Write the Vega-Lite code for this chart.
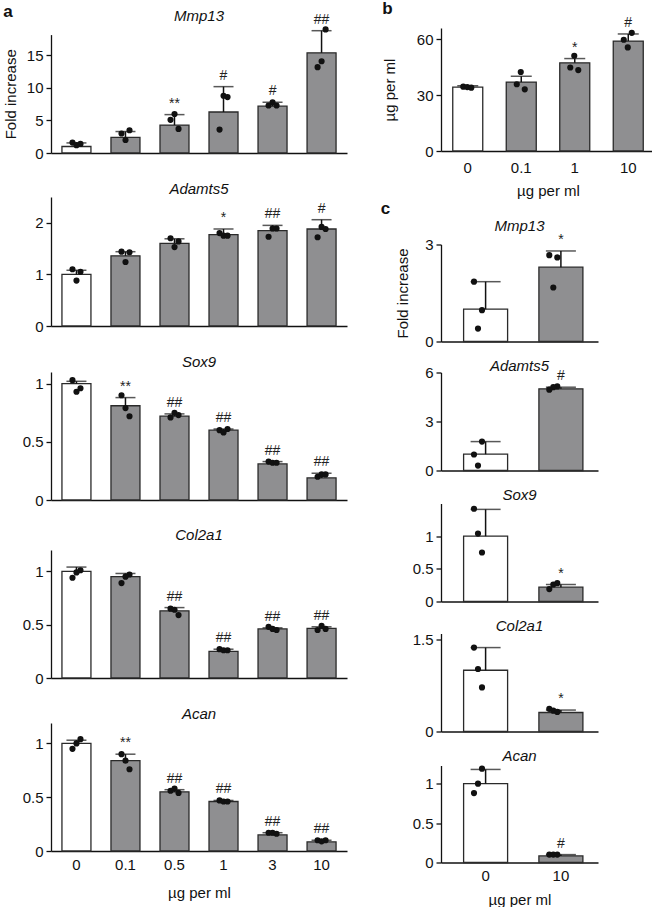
{
"$schema": "https://vega.github.io/schema/vega-lite/v6.json",
"padding": {"left": 3, "top": -1, "right": 0, "bottom": 0},
"datasets": {
"bars": [
{"panel":"aMmp13","dose":"0","grp":"ctrl","mean":1.0,"sd":1.55,"sig":""},
{"panel":"aMmp13","dose":"0.1","grp":"trt","mean":2.4,"sd":3.3,"sig":""},
{"panel":"aMmp13","dose":"0.5","grp":"trt","mean":4.3,"sd":5.9,"sig":"**"},
{"panel":"aMmp13","dose":"1","grp":"trt","mean":6.3,"sd":10.2,"sig":"#"},
{"panel":"aMmp13","dose":"3","grp":"trt","mean":7.2,"sd":7.8,"sig":"#"},
{"panel":"aMmp13","dose":"10","grp":"trt","mean":15.4,"sd":18.8,"sig":"##"},
{"panel":"aAdamts5","dose":"0","grp":"ctrl","mean":1.0,"sd":1.08,"sig":""},
{"panel":"aAdamts5","dose":"0.1","grp":"trt","mean":1.36,"sd":1.44,"sig":""},
{"panel":"aAdamts5","dose":"0.5","grp":"trt","mean":1.6,"sd":1.69,"sig":""},
{"panel":"aAdamts5","dose":"1","grp":"trt","mean":1.77,"sd":1.88,"sig":"*"},
{"panel":"aAdamts5","dose":"3","grp":"trt","mean":1.85,"sd":1.95,"sig":"##"},
{"panel":"aAdamts5","dose":"10","grp":"trt","mean":1.88,"sd":2.06,"sig":"#"},
{"panel":"aSox9","dose":"0","grp":"ctrl","mean":1.0,"sd":1.02,"sig":""},
{"panel":"aSox9","dose":"0.1","grp":"trt","mean":0.81,"sd":0.88,"sig":"**"},
{"panel":"aSox9","dose":"0.5","grp":"trt","mean":0.72,"sd":0.74,"sig":"##"},
{"panel":"aSox9","dose":"1","grp":"trt","mean":0.6,"sd":0.61,"sig":"##"},
{"panel":"aSox9","dose":"3","grp":"trt","mean":0.31,"sd":0.33,"sig":"##"},
{"panel":"aSox9","dose":"10","grp":"trt","mean":0.19,"sd":0.23,"sig":"##"},
{"panel":"aCol2a1","dose":"0","grp":"ctrl","mean":1.0,"sd":1.04,"sig":""},
{"panel":"aCol2a1","dose":"0.1","grp":"trt","mean":0.95,"sd":0.98,"sig":""},
{"panel":"aCol2a1","dose":"0.5","grp":"trt","mean":0.63,"sd":0.66,"sig":"##"},
{"panel":"aCol2a1","dose":"1","grp":"trt","mean":0.25,"sd":0.27,"sig":"##"},
{"panel":"aCol2a1","dose":"3","grp":"trt","mean":0.46,"sd":0.47,"sig":"##"},
{"panel":"aCol2a1","dose":"10","grp":"trt","mean":0.465,"sd":0.48,"sig":"##"},
{"panel":"aAcan","dose":"0","grp":"ctrl","mean":1.0,"sd":1.03,"sig":""},
{"panel":"aAcan","dose":"0.1","grp":"trt","mean":0.84,"sd":0.9,"sig":"**"},
{"panel":"aAcan","dose":"0.5","grp":"trt","mean":0.55,"sd":0.57,"sig":"##"},
{"panel":"aAcan","dose":"1","grp":"trt","mean":0.46,"sd":0.47,"sig":"##"},
{"panel":"aAcan","dose":"3","grp":"trt","mean":0.15,"sd":0.17,"sig":"##"},
{"panel":"aAcan","dose":"10","grp":"trt","mean":0.085,"sd":0.1,"sig":"##"},
{"panel":"b","dose":"0","grp":"ctrl","mean":34.3,"sd":35.0,"sig":""},
{"panel":"b","dose":"0.1","grp":"trt","mean":37.0,"sd":40.1,"sig":""},
{"panel":"b","dose":"1","grp":"trt","mean":47.3,"sd":49.6,"sig":"*"},
{"panel":"b","dose":"10","grp":"trt","mean":59.0,"sd":62.8,"sig":"#"},
{"panel":"cMmp13","dose":"0","grp":"ctrl","mean":1.0,"sd":1.85,"sig":""},
{"panel":"cMmp13","dose":"10","grp":"trt","mean":2.3,"sd":2.8,"sig":"*"},
{"panel":"cAdamts5","dose":"0","grp":"ctrl","mean":1.0,"sd":1.77,"sig":""},
{"panel":"cAdamts5","dose":"10","grp":"trt","mean":5.0,"sd":5.1,"sig":"#"},
{"panel":"cSox9","dose":"0","grp":"ctrl","mean":1.0,"sd":1.41,"sig":""},
{"panel":"cSox9","dose":"10","grp":"trt","mean":0.22,"sd":0.26,"sig":"*"},
{"panel":"cCol2a1","dose":"0","grp":"ctrl","mean":1.0,"sd":1.37,"sig":""},
{"panel":"cCol2a1","dose":"10","grp":"trt","mean":0.31,"sd":0.35,"sig":"*"},
{"panel":"cAcan","dose":"0","grp":"ctrl","mean":1.0,"sd":1.18,"sig":""},
{"panel":"cAcan","dose":"10","grp":"trt","mean":0.084,"sd":0.1,"sig":"#"}
],
"pts": [
{"panel":"aMmp13","dose":"0","rep":"1","val":1.6},{"panel":"aMmp13","dose":"0","rep":"3","val":1.4},{"panel":"aMmp13","dose":"0","rep":"2","val":1.2},
{"panel":"aMmp13","dose":"0.1","rep":"3","val":3.5},{"panel":"aMmp13","dose":"0.1","rep":"1","val":3.0},{"panel":"aMmp13","dose":"0.1","rep":"2","val":2.0},
{"panel":"aMmp13","dose":"0.5","rep":"2","val":6.0},{"panel":"aMmp13","dose":"0.5","rep":"1","val":5.1},{"panel":"aMmp13","dose":"0.5","rep":"3","val":3.7},
{"panel":"aMmp13","dose":"1","rep":"2","val":8.8},{"panel":"aMmp13","dose":"1","rep":"3","val":8.6},{"panel":"aMmp13","dose":"1","rep":"1","val":3.6},
{"panel":"aMmp13","dose":"3","rep":"2","val":7.8},{"panel":"aMmp13","dose":"3","rep":"1","val":7.3},{"panel":"aMmp13","dose":"3","rep":"3","val":7.3},
{"panel":"aMmp13","dose":"10","rep":"3","val":19.0},{"panel":"aMmp13","dose":"10","rep":"2","val":14.1},{"panel":"aMmp13","dose":"10","rep":"1","val":13.2},
{"panel":"aAdamts5","dose":"0","rep":"1","val":1.1},{"panel":"aAdamts5","dose":"0","rep":"3","val":1.05},{"panel":"aAdamts5","dose":"0","rep":"2","val":0.88},
{"panel":"aAdamts5","dose":"0.1","rep":"1","val":1.44},{"panel":"aAdamts5","dose":"0.1","rep":"3","val":1.43},{"panel":"aAdamts5","dose":"0.1","rep":"2","val":1.24},
{"panel":"aAdamts5","dose":"0.5","rep":"1","val":1.7},{"panel":"aAdamts5","dose":"0.5","rep":"3","val":1.64},{"panel":"aAdamts5","dose":"0.5","rep":"2","val":1.53},
{"panel":"aAdamts5","dose":"1","rep":"1","val":1.8},{"panel":"aAdamts5","dose":"1","rep":"2","val":1.75},{"panel":"aAdamts5","dose":"1","rep":"3","val":1.75},
{"panel":"aAdamts5","dose":"3","rep":"3","val":1.89},{"panel":"aAdamts5","dose":"3","rep":"2","val":1.89},{"panel":"aAdamts5","dose":"3","rep":"1","val":1.73},
{"panel":"aAdamts5","dose":"10","rep":"2","val":1.92},{"panel":"aAdamts5","dose":"10","rep":"3","val":1.88},{"panel":"aAdamts5","dose":"10","rep":"1","val":1.72},
{"panel":"aSox9","dose":"0","rep":"1","val":1.03},{"panel":"aSox9","dose":"0","rep":"3","val":0.96},{"panel":"aSox9","dose":"0","rep":"2","val":0.93},
{"panel":"aSox9","dose":"0.1","rep":"1","val":0.9},{"panel":"aSox9","dose":"0.1","rep":"2","val":0.79},{"panel":"aSox9","dose":"0.1","rep":"3","val":0.72},
{"panel":"aSox9","dose":"0.5","rep":"2","val":0.75},{"panel":"aSox9","dose":"0.5","rep":"3","val":0.73},{"panel":"aSox9","dose":"0.5","rep":"1","val":0.71},
{"panel":"aSox9","dose":"1","rep":"3","val":0.61},{"panel":"aSox9","dose":"1","rep":"1","val":0.6},{"panel":"aSox9","dose":"1","rep":"2","val":0.58},
{"panel":"aSox9","dose":"3","rep":"1","val":0.33},{"panel":"aSox9","dose":"3","rep":"2","val":0.32},{"panel":"aSox9","dose":"3","rep":"3","val":0.32},
{"panel":"aSox9","dose":"10","rep":"2","val":0.22},{"panel":"aSox9","dose":"10","rep":"3","val":0.22},{"panel":"aSox9","dose":"10","rep":"1","val":0.2},
{"panel":"aCol2a1","dose":"0","rep":"3","val":1.01},{"panel":"aCol2a1","dose":"0","rep":"2","val":0.99},{"panel":"aCol2a1","dose":"0","rep":"1","val":0.94},
{"panel":"aCol2a1","dose":"0.1","rep":"3","val":0.97},{"panel":"aCol2a1","dose":"0.1","rep":"2","val":0.95},{"panel":"aCol2a1","dose":"0.1","rep":"1","val":0.89},
{"panel":"aCol2a1","dose":"0.5","rep":"1","val":0.65},{"panel":"aCol2a1","dose":"0.5","rep":"2","val":0.64},{"panel":"aCol2a1","dose":"0.5","rep":"3","val":0.59},
{"panel":"aCol2a1","dose":"1","rep":"1","val":0.27},{"panel":"aCol2a1","dose":"1","rep":"2","val":0.26},{"panel":"aCol2a1","dose":"1","rep":"3","val":0.26},
{"panel":"aCol2a1","dose":"3","rep":"1","val":0.48},{"panel":"aCol2a1","dose":"3","rep":"2","val":0.46},{"panel":"aCol2a1","dose":"3","rep":"3","val":0.45},
{"panel":"aCol2a1","dose":"10","rep":"2","val":0.49},{"panel":"aCol2a1","dose":"10","rep":"3","val":0.46},{"panel":"aCol2a1","dose":"10","rep":"1","val":0.45},
{"panel":"aAcan","dose":"0","rep":"3","val":1.04},{"panel":"aAcan","dose":"0","rep":"2","val":1.0},{"panel":"aAcan","dose":"0","rep":"1","val":0.95},
{"panel":"aAcan","dose":"0.1","rep":"1","val":0.9},{"panel":"aAcan","dose":"0.1","rep":"2","val":0.84},{"panel":"aAcan","dose":"0.1","rep":"3","val":0.76},
{"panel":"aAcan","dose":"0.5","rep":"2","val":0.58},{"panel":"aAcan","dose":"0.5","rep":"1","val":0.56},{"panel":"aAcan","dose":"0.5","rep":"3","val":0.54},
{"panel":"aAcan","dose":"1","rep":"1","val":0.47},{"panel":"aAcan","dose":"1","rep":"2","val":0.46},{"panel":"aAcan","dose":"1","rep":"3","val":0.46},
{"panel":"aAcan","dose":"3","rep":"1","val":0.17},{"panel":"aAcan","dose":"3","rep":"2","val":0.17},{"panel":"aAcan","dose":"3","rep":"3","val":0.16},
{"panel":"aAcan","dose":"10","rep":"1","val":0.1},{"panel":"aAcan","dose":"10","rep":"3","val":0.1},{"panel":"aAcan","dose":"10","rep":"2","val":0.09},
{"panel":"b","dose":"0","rep":"1","val":34.5},{"panel":"b","dose":"0","rep":"2","val":34.3},{"panel":"b","dose":"0","rep":"3","val":34.0},
{"panel":"b","dose":"0.1","rep":"2","val":42.4},{"panel":"b","dose":"0.1","rep":"1","val":35.8},{"panel":"b","dose":"0.1","rep":"3","val":33.1},
{"panel":"b","dose":"1","rep":"2","val":51.1},{"panel":"b","dose":"1","rep":"1","val":44.8},{"panel":"b","dose":"1","rep":"3","val":43.4},
{"panel":"b","dose":"10","rep":"3","val":63.4},{"panel":"b","dose":"10","rep":"1","val":59.7},{"panel":"b","dose":"10","rep":"2","val":55.6},
{"panel":"cMmp13","dose":"0","rep":"1","val":1.85},{"panel":"cMmp13","dose":"0","rep":"3","val":0.97},{"panel":"cMmp13","dose":"0","rep":"2","val":0.4},
{"panel":"cMmp13","dose":"10","rep":"1","val":2.67},{"panel":"cMmp13","dose":"10","rep":"3","val":2.6},{"panel":"cMmp13","dose":"10","rep":"2","val":1.67},
{"panel":"cAdamts5","dose":"0","rep":"3","val":1.77},{"panel":"cAdamts5","dose":"0","rep":"1","val":0.98},{"panel":"cAdamts5","dose":"0","rep":"2","val":0.3},
{"panel":"cAdamts5","dose":"10","rep":"3","val":5.15},{"panel":"cAdamts5","dose":"10","rep":"2","val":5.1},{"panel":"cAdamts5","dose":"10","rep":"1","val":4.95},
{"panel":"cSox9","dose":"0","rep":"1","val":1.42},{"panel":"cSox9","dose":"0","rep":"2","val":1.04},{"panel":"cSox9","dose":"0","rep":"3","val":0.75},
{"panel":"cSox9","dose":"10","rep":"3","val":0.28},{"panel":"cSox9","dose":"10","rep":"2","val":0.26},{"panel":"cSox9","dose":"10","rep":"1","val":0.19},
{"panel":"cCol2a1","dose":"0","rep":"1","val":1.37},{"panel":"cCol2a1","dose":"0","rep":"2","val":1.02},{"panel":"cCol2a1","dose":"0","rep":"3","val":0.72},
{"panel":"cCol2a1","dose":"10","rep":"1","val":0.37},{"panel":"cCol2a1","dose":"10","rep":"2","val":0.34},{"panel":"cCol2a1","dose":"10","rep":"3","val":0.32},
{"panel":"cAcan","dose":"0","rep":"3","val":1.19},{"panel":"cAcan","dose":"0","rep":"2","val":1.0},{"panel":"cAcan","dose":"0","rep":"1","val":0.88},
{"panel":"cAcan","dose":"10","rep":"1","val":0.1},{"panel":"cAcan","dose":"10","rep":"2","val":0.1},{"panel":"cAcan","dose":"10","rep":"3","val":0.1}
]
},
"spacing": 33,
"hconcat": [
{
"title": {"text": "a", "anchor": "start", "frame": "bounds", "fontStyle": "normal", "fontWeight": "bold", "fontSize": 17, "offset": -12},
"spacing": 20,
"vconcat": [
{"width": 296, "height": 125, "title": {"text": "Mmp13", "offset": -11},
"layer": [
{"data": {"name": "bars"}, "transform": [{"filter": "datum.panel === 'aMmp13'"}], "mark": {"type": "bar", "width": 29},
 "encoding": {"x": {"field": "dose", "type": "ordinal", "scale": {"domain": ["0","0.1","0.5","1","3","10"], "paddingInner": 0.41, "paddingOuter": 0.224}, "axis": {"labels": false, "ticks": false, "title": null}},
  "y": {"field": "mean", "type": "quantitative", "scale": {"domain": [0, 18.2], "nice": false, "range": [125, 6.6]}, "axis": {"values": [0,5,10,15], "title": "Fold increase", "titlePadding": 8}},
  "fill": {"field": "grp", "type": "nominal", "scale": {"domain": ["ctrl","trt"], "range": ["#ffffff","#8f8f91"]}, "legend": null}}},
{"data": {"name": "bars"}, "transform": [{"filter": "datum.panel === 'aMmp13'"}], "mark": "rule",
 "encoding": {"x": {"field": "dose", "type": "ordinal"}, "y": {"field": "mean", "type": "quantitative"}, "y2": {"field": "sd"}}},
{"data": {"name": "bars"}, "transform": [{"filter": "datum.panel === 'aMmp13'"}], "mark": {"type": "tick", "size": 20},
 "encoding": {"x": {"field": "dose", "type": "ordinal"}, "y": {"field": "sd", "type": "quantitative"}}},
{"data": {"name": "pts"}, "transform": [{"filter": "datum.panel === 'aMmp13'"}], "mark": "point",
 "encoding": {"x": {"field": "dose", "type": "ordinal"}, "xOffset": {"field": "rep", "type": "nominal", "scale": {"type": "point", "domain": ["1","2","3"], "range": [10.5, 18.5], "padding": 0}}, "y": {"field": "val", "type": "quantitative"}}},
{"data": {"name": "bars"}, "transform": [{"filter": "datum.panel === 'aMmp13' && datum.sig !== ''"}], "mark": "text",
 "encoding": {"x": {"field": "dose", "type": "ordinal"}, "y": {"field": "sd", "type": "quantitative"}, "text": {"field": "sig"}}}
]},
{"width": 296, "height": 129, "title": {"text": "Adamts5", "offset": 0.5},
"layer": [
{"data": {"name": "bars"}, "transform": [{"filter": "datum.panel === 'aAdamts5'"}], "mark": {"type": "bar", "width": 29},
 "encoding": {"x": {"field": "dose", "type": "ordinal", "scale": {"domain": ["0","0.1","0.5","1","3","10"], "paddingInner": 0.41, "paddingOuter": 0.224}, "axis": {"labels": false, "ticks": false, "title": null}},
  "y": {"field": "mean", "type": "quantitative", "scale": {"domain": [0, 2.5], "nice": false}, "axis": {"values": [0,1,2], "format": "~g", "title": null}},
  "fill": {"field": "grp", "type": "nominal", "scale": {"domain": ["ctrl","trt"], "range": ["#ffffff","#8f8f91"]}, "legend": null}}},
{"data": {"name": "bars"}, "transform": [{"filter": "datum.panel === 'aAdamts5'"}], "mark": "rule",
 "encoding": {"x": {"field": "dose", "type": "ordinal"}, "y": {"field": "mean", "type": "quantitative"}, "y2": {"field": "sd"}}},
{"data": {"name": "bars"}, "transform": [{"filter": "datum.panel === 'aAdamts5'"}], "mark": {"type": "tick", "size": 20},
 "encoding": {"x": {"field": "dose", "type": "ordinal"}, "y": {"field": "sd", "type": "quantitative"}}},
{"data": {"name": "pts"}, "transform": [{"filter": "datum.panel === 'aAdamts5'"}], "mark": "point",
 "encoding": {"x": {"field": "dose", "type": "ordinal"}, "xOffset": {"field": "rep", "type": "nominal", "scale": {"type": "point", "domain": ["1","2","3"], "range": [10.5, 18.5], "padding": 0}}, "y": {"field": "val", "type": "quantitative"}}},
{"data": {"name": "bars"}, "transform": [{"filter": "datum.panel === 'aAdamts5' && datum.sig !== ''"}], "mark": "text",
 "encoding": {"x": {"field": "dose", "type": "ordinal"}, "y": {"field": "sd", "type": "quantitative"}, "text": {"field": "sig"}}}
]},
{"width": 296, "height": 128, "title": {"text": "Sox9", "offset": 2.5},
"layer": [
{"data": {"name": "bars"}, "transform": [{"filter": "datum.panel === 'aSox9'"}], "mark": {"type": "bar", "width": 29},
 "encoding": {"x": {"field": "dose", "type": "ordinal", "scale": {"domain": ["0","0.1","0.5","1","3","10"], "paddingInner": 0.41, "paddingOuter": 0.224}, "axis": {"labels": false, "ticks": false, "title": null}},
  "y": {"field": "mean", "type": "quantitative", "scale": {"domain": [0, 1.1], "nice": false}, "axis": {"values": [0,0.5,1], "format": "~g", "title": null}},
  "fill": {"field": "grp", "type": "nominal", "scale": {"domain": ["ctrl","trt"], "range": ["#ffffff","#8f8f91"]}, "legend": null}}},
{"data": {"name": "bars"}, "transform": [{"filter": "datum.panel === 'aSox9'"}], "mark": "rule",
 "encoding": {"x": {"field": "dose", "type": "ordinal"}, "y": {"field": "mean", "type": "quantitative"}, "y2": {"field": "sd"}}},
{"data": {"name": "bars"}, "transform": [{"filter": "datum.panel === 'aSox9'"}], "mark": {"type": "tick", "size": 20},
 "encoding": {"x": {"field": "dose", "type": "ordinal"}, "y": {"field": "sd", "type": "quantitative"}}},
{"data": {"name": "pts"}, "transform": [{"filter": "datum.panel === 'aSox9'"}], "mark": "point",
 "encoding": {"x": {"field": "dose", "type": "ordinal"}, "xOffset": {"field": "rep", "type": "nominal", "scale": {"type": "point", "domain": ["1","2","3"], "range": [10.5, 18.5], "padding": 0}}, "y": {"field": "val", "type": "quantitative"}}},
{"data": {"name": "bars"}, "transform": [{"filter": "datum.panel === 'aSox9' && datum.sig !== ''"}], "mark": "text",
 "encoding": {"x": {"field": "dose", "type": "ordinal"}, "y": {"field": "sd", "type": "quantitative"}, "text": {"field": "sig"}}}
]},
{"width": 296, "height": 128, "title": {"text": "Col2a1", "offset": 7},
"layer": [
{"data": {"name": "bars"}, "transform": [{"filter": "datum.panel === 'aCol2a1'"}], "mark": {"type": "bar", "width": 29},
 "encoding": {"x": {"field": "dose", "type": "ordinal", "scale": {"domain": ["0","0.1","0.5","1","3","10"], "paddingInner": 0.41, "paddingOuter": 0.224}, "axis": {"labels": false, "ticks": false, "title": null}},
  "y": {"field": "mean", "type": "quantitative", "scale": {"domain": [0, 1.2], "nice": false}, "axis": {"values": [0,0.5,1], "format": "~g", "title": null}},
  "fill": {"field": "grp", "type": "nominal", "scale": {"domain": ["ctrl","trt"], "range": ["#ffffff","#8f8f91"]}, "legend": null}}},
{"data": {"name": "bars"}, "transform": [{"filter": "datum.panel === 'aCol2a1'"}], "mark": "rule",
 "encoding": {"x": {"field": "dose", "type": "ordinal"}, "y": {"field": "mean", "type": "quantitative"}, "y2": {"field": "sd"}}},
{"data": {"name": "bars"}, "transform": [{"filter": "datum.panel === 'aCol2a1'"}], "mark": {"type": "tick", "size": 20},
 "encoding": {"x": {"field": "dose", "type": "ordinal"}, "y": {"field": "sd", "type": "quantitative"}}},
{"data": {"name": "pts"}, "transform": [{"filter": "datum.panel === 'aCol2a1'"}], "mark": "point",
 "encoding": {"x": {"field": "dose", "type": "ordinal"}, "xOffset": {"field": "rep", "type": "nominal", "scale": {"type": "point", "domain": ["1","2","3"], "range": [10.5, 18.5], "padding": 0}}, "y": {"field": "val", "type": "quantitative"}}},
{"data": {"name": "bars"}, "transform": [{"filter": "datum.panel === 'aCol2a1' && datum.sig !== ''"}], "mark": "text",
 "encoding": {"x": {"field": "dose", "type": "ordinal"}, "y": {"field": "sd", "type": "quantitative"}, "text": {"field": "sig"}}}
]},
{"width": 296, "height": 128, "title": {"text": "Acan", "offset": 1.5},
"layer": [
{"data": {"name": "bars"}, "transform": [{"filter": "datum.panel === 'aAcan'"}], "mark": {"type": "bar", "width": 29},
 "encoding": {"x": {"field": "dose", "type": "ordinal", "scale": {"domain": ["0","0.1","0.5","1","3","10"], "paddingInner": 0.41, "paddingOuter": 0.224}, "axis": {"labelAngle": 0, "ticks": false, "labelPadding": 6, "title": "µg per ml", "titlePadding": 13}},
  "y": {"field": "mean", "type": "quantitative", "scale": {"domain": [0, 1.19], "nice": false}, "axis": {"values": [0,0.5,1], "format": "~g", "title": null}},
  "fill": {"field": "grp", "type": "nominal", "scale": {"domain": ["ctrl","trt"], "range": ["#ffffff","#8f8f91"]}, "legend": null}}},
{"data": {"name": "bars"}, "transform": [{"filter": "datum.panel === 'aAcan'"}], "mark": "rule",
 "encoding": {"x": {"field": "dose", "type": "ordinal"}, "y": {"field": "mean", "type": "quantitative"}, "y2": {"field": "sd"}}},
{"data": {"name": "bars"}, "transform": [{"filter": "datum.panel === 'aAcan'"}], "mark": {"type": "tick", "size": 20},
 "encoding": {"x": {"field": "dose", "type": "ordinal"}, "y": {"field": "sd", "type": "quantitative"}}},
{"data": {"name": "pts"}, "transform": [{"filter": "datum.panel === 'aAcan'"}], "mark": "point",
 "encoding": {"x": {"field": "dose", "type": "ordinal"}, "xOffset": {"field": "rep", "type": "nominal", "scale": {"type": "point", "domain": ["1","2","3"], "range": [10.5, 18.5], "padding": 0}}, "y": {"field": "val", "type": "quantitative"}}},
{"data": {"name": "bars"}, "transform": [{"filter": "datum.panel === 'aAcan' && datum.sig !== ''"}], "mark": "text",
 "encoding": {"x": {"field": "dose", "type": "ordinal"}, "y": {"field": "sd", "type": "quantitative"}, "text": {"field": "sig"}}}
]}
]
},
{
"spacing": 0.5,
"vconcat": [
{"width": 214, "height": 123, "title": {"text": "b", "anchor": "start", "frame": "bounds", "fontStyle": "normal", "fontWeight": "bold", "fontSize": 17, "offset": -2},
"layer": [
{"data": {"name": "bars"}, "transform": [{"filter": "datum.panel === 'b'"}], "mark": {"type": "bar", "width": 30},
 "encoding": {"x": {"field": "dose", "type": "ordinal", "scale": {"domain": ["0","0.1","1","10"], "paddingInner": 0.44, "paddingOuter": 0.22}, "axis": {"labelAngle": 0, "ticks": false, "labelPadding": 9, "title": "µg per ml", "titlePadding": 8.5}},
  "y": {"field": "mean", "type": "quantitative", "scale": {"domain": [0, 66], "nice": false}, "axis": {"values": [0,30,60], "title": "µg per ml", "titlePadding": 19}},
  "fill": {"field": "grp", "type": "nominal", "scale": {"domain": ["ctrl","trt"], "range": ["#ffffff","#8f8f91"]}, "legend": null}}},
{"data": {"name": "bars"}, "transform": [{"filter": "datum.panel === 'b'"}], "mark": "rule",
 "encoding": {"x": {"field": "dose", "type": "ordinal"}, "y": {"field": "mean", "type": "quantitative"}, "y2": {"field": "sd"}}},
{"data": {"name": "bars"}, "transform": [{"filter": "datum.panel === 'b'"}], "mark": {"type": "tick", "size": 21},
 "encoding": {"x": {"field": "dose", "type": "ordinal"}, "y": {"field": "sd", "type": "quantitative"}}},
{"data": {"name": "pts"}, "transform": [{"filter": "datum.panel === 'b'"}], "mark": "point",
 "encoding": {"x": {"field": "dose", "type": "ordinal"}, "xOffset": {"field": "rep", "type": "nominal", "scale": {"type": "point", "domain": ["1","2","3"], "range": [11, 19], "padding": 0}}, "y": {"field": "val", "type": "quantitative"}}},
{"data": {"name": "bars"}, "transform": [{"filter": "datum.panel === 'b' && datum.sig !== ''"}], "mark": "text",
 "encoding": {"x": {"field": "dose", "type": "ordinal"}, "y": {"field": "sd", "type": "quantitative"}, "text": {"field": "sig"}}}
]},
{
"title": {"text": "c", "anchor": "start", "frame": "bounds", "fontStyle": "normal", "fontWeight": "bold", "fontSize": 17, "offset": 1, "dx": -15},
"spacing": 9,
"vconcat": [
{"width": 157, "height": 97, "title": {"text": "Mmp13", "offset": -1},
"layer": [
{"data": {"name": "bars"}, "transform": [{"filter": "datum.panel === 'cMmp13'"}], "mark": {"type": "bar", "width": 44},
 "encoding": {"x": {"field": "dose", "type": "ordinal", "scale": {"domain": ["0","10"], "paddingInner": 0.413, "paddingOuter": 0.249, "align": 0.6}, "axis": {"labels": false, "ticks": false, "title": null}},
  "y": {"field": "mean", "type": "quantitative", "scale": {"domain": [0, 3], "nice": false}, "axis": {"values": [0,1,2,3], "title": "Fold increase", "titlePadding": 14}},
  "fill": {"field": "grp", "type": "nominal", "scale": {"domain": ["ctrl","trt"], "range": ["#ffffff","#8f8f91"]}, "legend": null}}},
{"data": {"name": "bars"}, "transform": [{"filter": "datum.panel === 'cMmp13'"}], "mark": "rule",
 "encoding": {"x": {"field": "dose", "type": "ordinal"}, "y": {"field": "mean", "type": "quantitative"}, "y2": {"field": "sd"}}},
{"data": {"name": "bars"}, "transform": [{"filter": "datum.panel === 'cMmp13'"}], "mark": {"type": "tick", "size": 30},
 "encoding": {"x": {"field": "dose", "type": "ordinal"}, "y": {"field": "sd", "type": "quantitative"}}},
{"data": {"name": "pts"}, "transform": [{"filter": "datum.panel === 'cMmp13'"}], "mark": "point",
 "encoding": {"x": {"field": "dose", "type": "ordinal"}, "xOffset": {"field": "rep", "type": "nominal", "scale": {"type": "point", "domain": ["1","2","3"], "range": [17, 27], "padding": 0}}, "y": {"field": "val", "type": "quantitative"}}},
{"data": {"name": "bars"}, "transform": [{"filter": "datum.panel === 'cMmp13' && datum.sig !== ''"}], "mark": "text",
 "encoding": {"x": {"field": "dose", "type": "ordinal"}, "y": {"field": "sd", "type": "quantitative"}, "text": {"field": "sig"}}}
]},
{"width": 157, "height": 98, "title": {"text": "Adamts5", "offset": -8.5},
"layer": [
{"data": {"name": "bars"}, "transform": [{"filter": "datum.panel === 'cAdamts5'"}], "mark": {"type": "bar", "width": 44},
 "encoding": {"x": {"field": "dose", "type": "ordinal", "scale": {"domain": ["0","10"], "paddingInner": 0.413, "paddingOuter": 0.249, "align": 0.6}, "axis": {"labels": false, "ticks": false, "title": null}},
  "y": {"field": "mean", "type": "quantitative", "scale": {"domain": [0, 6], "nice": false}, "axis": {"values": [0,3,6], "title": null}},
  "fill": {"field": "grp", "type": "nominal", "scale": {"domain": ["ctrl","trt"], "range": ["#ffffff","#8f8f91"]}, "legend": null}}},
{"data": {"name": "bars"}, "transform": [{"filter": "datum.panel === 'cAdamts5'"}], "mark": "rule",
 "encoding": {"x": {"field": "dose", "type": "ordinal"}, "y": {"field": "mean", "type": "quantitative"}, "y2": {"field": "sd"}}},
{"data": {"name": "bars"}, "transform": [{"filter": "datum.panel === 'cAdamts5'"}], "mark": {"type": "tick", "size": 30},
 "encoding": {"x": {"field": "dose", "type": "ordinal"}, "y": {"field": "sd", "type": "quantitative"}}},
{"data": {"name": "pts"}, "transform": [{"filter": "datum.panel === 'cAdamts5'"}], "mark": "point",
 "encoding": {"x": {"field": "dose", "type": "ordinal"}, "xOffset": {"field": "rep", "type": "nominal", "scale": {"type": "point", "domain": ["1","2","3"], "range": [14, 30], "padding": 0}}, "y": {"field": "val", "type": "quantitative"}}},
{"data": {"name": "bars"}, "transform": [{"filter": "datum.panel === 'cAdamts5' && datum.sig !== ''"}], "mark": "text",
 "encoding": {"x": {"field": "dose", "type": "ordinal"}, "y": {"field": "sd", "type": "quantitative"}, "text": {"field": "sig"}}}
]},
{"width": 157, "height": 98, "title": {"text": "Sox9", "offset": 1},
"layer": [
{"data": {"name": "bars"}, "transform": [{"filter": "datum.panel === 'cSox9'"}], "mark": {"type": "bar", "width": 44},
 "encoding": {"x": {"field": "dose", "type": "ordinal", "scale": {"domain": ["0","10"], "paddingInner": 0.413, "paddingOuter": 0.249, "align": 0.6}, "axis": {"labels": false, "ticks": false, "title": null}},
  "y": {"field": "mean", "type": "quantitative", "scale": {"domain": [0, 1.5], "nice": false}, "axis": {"values": [0,0.5,1], "format": "~g", "title": null}},
  "fill": {"field": "grp", "type": "nominal", "scale": {"domain": ["ctrl","trt"], "range": ["#ffffff","#8f8f91"]}, "legend": null}}},
{"data": {"name": "bars"}, "transform": [{"filter": "datum.panel === 'cSox9'"}], "mark": "rule",
 "encoding": {"x": {"field": "dose", "type": "ordinal"}, "y": {"field": "mean", "type": "quantitative"}, "y2": {"field": "sd"}}},
{"data": {"name": "bars"}, "transform": [{"filter": "datum.panel === 'cSox9'"}], "mark": {"type": "tick", "size": 30},
 "encoding": {"x": {"field": "dose", "type": "ordinal"}, "y": {"field": "sd", "type": "quantitative"}}},
{"data": {"name": "pts"}, "transform": [{"filter": "datum.panel === 'cSox9'"}], "mark": "point",
 "encoding": {"x": {"field": "dose", "type": "ordinal"}, "xOffset": {"field": "rep", "type": "nominal", "scale": {"type": "point", "domain": ["1","2","3"], "range": [16, 30], "padding": 0}}, "y": {"field": "val", "type": "quantitative"}}},
{"data": {"name": "bars"}, "transform": [{"filter": "datum.panel === 'cSox9' && datum.sig !== ''"}], "mark": "text",
 "encoding": {"x": {"field": "dose", "type": "ordinal"}, "y": {"field": "sd", "type": "quantitative"}, "text": {"field": "sig"}}}
]},
{"width": 157, "height": 98, "title": {"text": "Col2a1", "offset": -1.7},
"layer": [
{"data": {"name": "bars"}, "transform": [{"filter": "datum.panel === 'cCol2a1'"}], "mark": {"type": "bar", "width": 44},
 "encoding": {"x": {"field": "dose", "type": "ordinal", "scale": {"domain": ["0","10"], "paddingInner": 0.413, "paddingOuter": 0.249, "align": 0.6}, "axis": {"labels": false, "ticks": false, "title": null}},
  "y": {"field": "mean", "type": "quantitative", "scale": {"domain": [0, 1.6], "nice": false}, "axis": {"values": [0,0.5,1,1.5], "format": "~g", "title": null}},
  "fill": {"field": "grp", "type": "nominal", "scale": {"domain": ["ctrl","trt"], "range": ["#ffffff","#8f8f91"]}, "legend": null}}},
{"data": {"name": "bars"}, "transform": [{"filter": "datum.panel === 'cCol2a1'"}], "mark": "rule",
 "encoding": {"x": {"field": "dose", "type": "ordinal"}, "y": {"field": "mean", "type": "quantitative"}, "y2": {"field": "sd"}}},
{"data": {"name": "bars"}, "transform": [{"filter": "datum.panel === 'cCol2a1'"}], "mark": {"type": "tick", "size": 30},
 "encoding": {"x": {"field": "dose", "type": "ordinal"}, "y": {"field": "sd", "type": "quantitative"}}},
{"data": {"name": "pts"}, "transform": [{"filter": "datum.panel === 'cCol2a1'"}], "mark": "point",
 "encoding": {"x": {"field": "dose", "type": "ordinal"}, "xOffset": {"field": "rep", "type": "nominal", "scale": {"type": "point", "domain": ["1","2","3"], "range": [17, 29], "padding": 0}}, "y": {"field": "val", "type": "quantitative"}}},
{"data": {"name": "bars"}, "transform": [{"filter": "datum.panel === 'cCol2a1' && datum.sig !== ''"}], "mark": "text",
 "encoding": {"x": {"field": "dose", "type": "ordinal"}, "y": {"field": "sd", "type": "quantitative"}, "text": {"field": "sig"}}}
]},
{"width": 157, "height": 97, "title": {"text": "Acan", "offset": 2},
"layer": [
{"data": {"name": "bars"}, "transform": [{"filter": "datum.panel === 'cAcan'"}], "mark": {"type": "bar", "width": 44},
 "encoding": {"x": {"field": "dose", "type": "ordinal", "scale": {"domain": ["0","10"], "paddingInner": 0.413, "paddingOuter": 0.249, "align": 0.6}, "axis": {"labelAngle": 0, "ticks": false, "labelPadding": 6, "title": "µg per ml", "titlePadding": 8.5}},
  "y": {"field": "mean", "type": "quantitative", "scale": {"domain": [0, 1.23], "nice": false}, "axis": {"values": [0,0.5,1], "format": "~g", "title": null}},
  "fill": {"field": "grp", "type": "nominal", "scale": {"domain": ["ctrl","trt"], "range": ["#ffffff","#8f8f91"]}, "legend": null}}},
{"data": {"name": "bars"}, "transform": [{"filter": "datum.panel === 'cAcan'"}], "mark": "rule",
 "encoding": {"x": {"field": "dose", "type": "ordinal"}, "y": {"field": "mean", "type": "quantitative"}, "y2": {"field": "sd"}}},
{"data": {"name": "bars"}, "transform": [{"filter": "datum.panel === 'cAcan'"}], "mark": {"type": "tick", "size": 30},
 "encoding": {"x": {"field": "dose", "type": "ordinal"}, "y": {"field": "sd", "type": "quantitative"}}},
{"data": {"name": "pts"}, "transform": [{"filter": "datum.panel === 'cAcan'"}], "mark": "point",
 "encoding": {"x": {"field": "dose", "type": "ordinal"}, "xOffset": {"field": "rep", "type": "nominal", "scale": {"type": "point", "domain": ["1","2","3"], "range": [16, 30], "padding": 0}}, "y": {"field": "val", "type": "quantitative"}}},
{"data": {"name": "bars"}, "transform": [{"filter": "datum.panel === 'cAcan' && datum.sig !== ''"}], "mark": "text",
 "encoding": {"x": {"field": "dose", "type": "ordinal"}, "y": {"field": "sd", "type": "quantitative"}, "text": {"field": "sig"}}}
]}
]
}
]
}
],
"config": {
"font": "Liberation Sans",
"view": {"stroke": null},
"axis": {"labelFont": "Liberation Sans", "titleFont": "Liberation Sans", "labelFontSize": 15, "titleFontSize": 15, "titleFontWeight": "normal", "labelColor": "#111", "titleColor": "#111", "domainColor": "#111", "tickColor": "#111", "domainWidth": 1.3, "tickWidth": 1.3, "tickSize": 5, "grid": false, "labelPadding": 3, "labelOverlap": false},
"title": {"font": "Liberation Sans", "fontSize": 15, "fontStyle": "italic", "fontWeight": "normal", "color": "#111", "baseline": "bottom"},
"bar": {"stroke": "#2a2a2a", "strokeWidth": 1.3},
"rule": {"stroke": "#111", "strokeWidth": 1.5},
"tick": {"color": "#111", "thickness": 1.5},
"point": {"filled": true, "color": "#111", "size": 38, "opacity": 1},
"text": {"font": "Liberation Sans", "fontSize": 14, "baseline": "alphabetic", "dy": -7, "color": "#222"}
}
}
